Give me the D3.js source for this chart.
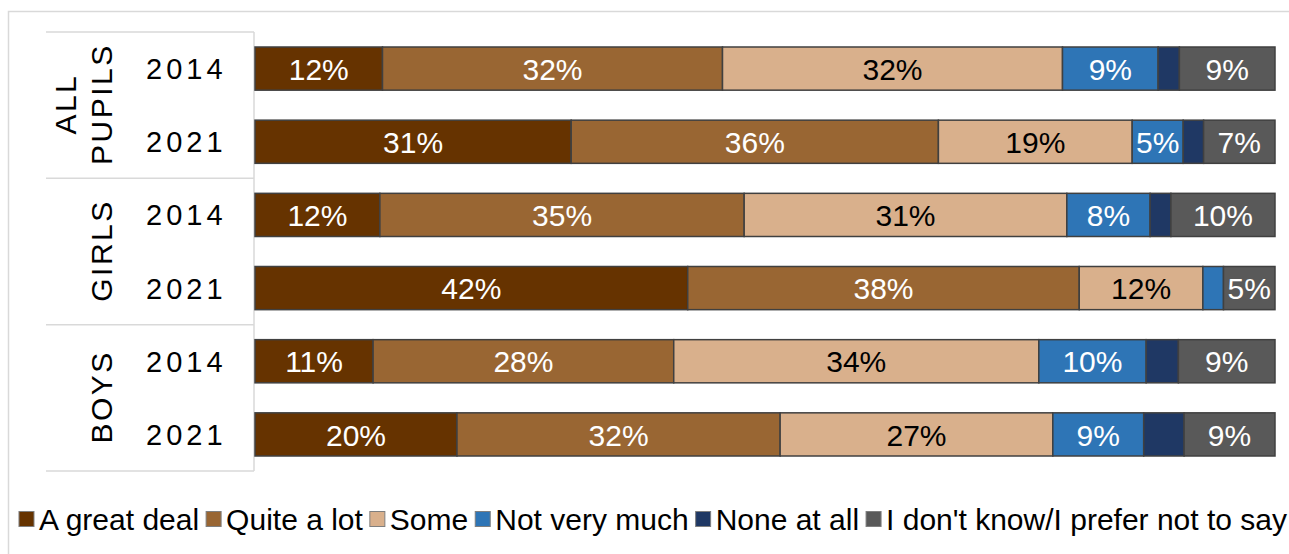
<!DOCTYPE html>
<html>
<head>
<meta charset="utf-8">
<script src="https://cdn.jsdelivr.net/npm/d3@7"></script>
<style>
  body { margin: 0; background: #fff; }
  svg { display: block; font-family: "Liberation Sans", Arial, sans-serif; }
</style>
</head>
<body>
<svg></svg>
<script>
var groups = ["ALL PUPILS", "GIRLS", "BOYS"];
var years = ["2014", "2021"];
var seriesNames = ["A great deal", "Quite a lot", "Some", "Not very much", "None at all", "I don't know/I prefer not to say"];
var colors = ["#663300", "#996633", "#d9b08c", "#2e75b6", "#1f3864", "#595959"];

// one value per row: all 2014, all 2021, girls 2014, girls 2021, boys 2014, boys 2021
var greatDeal = [12, 31, 12, 42, 11, 20];
var quiteALot = [32, 36, 35, 38, 28, 32];
var some = [32, 19, 31, 12, 34, 27];
var notVeryMuch = [9, 5, 8, 2, 10, 9];
var noneAtAll = [2, 2, 2, 0, 3, 4];
var dontKnow = [9, 7, 10, 5, 9, 9];

var seriesValues = [greatDeal, quiteALot, some, notVeryMuch, noneAtAll, dontKnow];

var width = 1289,
  height = 554;

var rows = [];
groups.forEach(function (g, gi) {
  years.forEach(function (y, yi) {
    var i = gi * years.length + yi;
    var row = { id: g + "|" + y, group: g, year: y };
    seriesNames.forEach(function (s, si) {
      row[s] = seriesValues[si][i];
    });
    rows.push(row);
  });
});

var svg = d3.select("svg").attr("width", width).attr("height", height);

// outer frame
svg.append("rect")
  .attr("x", 8.5)
  .attr("y", 11.5)
  .attr("width", width)
  .attr("height", height)
  .attr("fill", "none")
  .attr("stroke", "#d9d9d9")
  .attr("stroke-width", 1.5);

var x = d3.scaleLinear().domain([0, 1]).range([255, 1275]);
var y = d3.scaleBand()
  .domain(rows.map(function (d) { return d.id; }))
  .range([32, 471])
  .paddingInner(0.41)
  .paddingOuter(0.205);

var groupY = d3.scaleBand().domain(groups).range([32, 471]);

var stack = d3.stack().keys(seriesNames).offset(d3.stackOffsetExpand);
var stacked = stack(rows);

// category table lines
var table = svg.append("g").attr("stroke", "#d9d9d9").attr("stroke-width", 1.5);
groupY.domain().concat([null]).forEach(function (g) {
  var yy = g === null ? groupY.range()[1] : groupY(g);
  table.append("line")
    .attr("x1", 46).attr("x2", 254)
    .attr("y1", yy).attr("y2", yy);
});
table.append("line")
  .attr("x1", 254).attr("x2", 254)
  .attr("y1", groupY.range()[0]).attr("y2", groupY.range()[1]);

// group labels (rotated)
groups.forEach(function (g) {
  var lines = g.split(" ");
  var cy = groupY(g) + groupY.bandwidth() / 2;
  var t = svg.append("text")
    .attr("transform", "translate(112," + cy + ") rotate(-90)")
    .attr("text-anchor", "middle")
    .attr("font-size", "30px")
    .attr("letter-spacing", "2.5px")
    .attr("fill", "#000");
  lines.forEach(function (l, li) {
    t.append("tspan")
      .attr("x", 1)
      .attr("y", -(lines.length - 1 - li) * 36)
      .text(l);
  });
});

// year labels
svg.selectAll(".year")
  .data(rows)
  .join("text")
  .attr("class", "year")
  .attr("x", 146)
  .attr("y", function (d) { return y(d.id) + y.bandwidth() / 2; })
  .attr("dy", "0.36em")
  .attr("font-size", "29px")
  .attr("letter-spacing", "4px")
  .attr("fill", "#000")
  .text(function (d) { return d.year; });

// bars
var layers = svg.selectAll(".layer")
  .data(stacked)
  .join("g")
  .attr("class", "layer")
  .attr("fill", function (d, i) { return colors[i]; });

layers.selectAll("rect")
  .data(function (d) { return d.filter(function (p) { return p[1] > p[0]; }); })
  .join("rect")
  .attr("x", function (d) { return x(d[0]); })
  .attr("y", function (d) { return y(d.data.id); })
  .attr("width", function (d) { return x(d[1]) - x(d[0]); })
  .attr("height", y.bandwidth())
  .attr("stroke", "#404040")
  .attr("stroke-width", 1.5);

layers.each(function (layer, li) {
  d3.select(this).selectAll("text")
    .data(layer.filter(function (p) { return p.data[layer.key] >= 5; }))
    .join("text")
    .attr("x", function (d) { return (x(d[0]) + x(d[1])) / 2; })
    .attr("y", function (d) { return y(d.data.id) + y.bandwidth() / 2; })
    .attr("dy", "0.37em")
    .attr("text-anchor", "middle")
    .attr("font-size", "30px")
    .attr("fill", li === 2 ? "#000" : "#fff")
    .text(function (d) { return d.data[layer.key] + "%"; });
});

// legend
var legend = svg.append("g").attr("transform", "translate(0,519)");
var items = legend.selectAll(".item")
  .data(seriesNames)
  .join("g")
  .attr("class", "item");

items.append("rect")
  .attr("y", -7.5)
  .attr("width", 15)
  .attr("height", 15)
  .attr("fill", function (d, i) { return colors[i]; })
  .attr("stroke", "#7f7f7f")
  .attr("stroke-width", 1);

items.append("text")
  .attr("x", 20)
  .attr("dy", "0.37em")
  .attr("font-size", "30px")
  .attr("fill", "#000")
  .text(function (d) { return d; });

var pos = [], cur = 0;
items.each(function () {
  pos.push(cur);
  cur += 20 + d3.select(this).select("text").node().getComputedTextLength() + 7;
});
var total = cur - 7;
var start = 653 - total / 2;
items.attr("transform", function (d, i) { return "translate(" + (start + pos[i]) + ",0)"; });
</script>
</body>
</html>
